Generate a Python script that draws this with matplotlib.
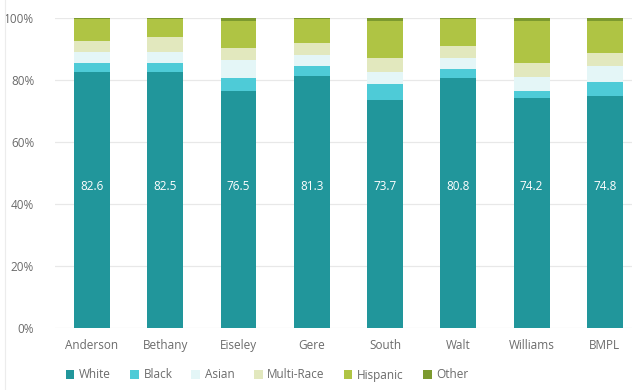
import numpy as np
import matplotlib
matplotlib.use("Agg")
import matplotlib.pyplot as plt
from matplotlib.patches import Patch
from matplotlib.lines import Line2D

plt.rcParams["font.family"] = ["Open Sans", "DejaVu Sans"]

schools = ["Anderson", "Bethany", "Eiseley", "Gere", "South", "Walt", "Williams", "BMPL"]
white = [82.6, 82.5, 76.5, 81.3, 73.7, 80.8, 74.2, 74.8]
black = [3.0, 3.1, 4.3, 3.2, 5.0, 2.9, 2.3, 4.6]
asian = [3.5, 3.5, 5.6, 3.5, 3.9, 3.3, 4.4, 5.2]
multi = [3.6, 4.7, 4.0, 3.8, 4.5, 3.9, 4.5, 4.2]
hispanic = [7.0, 5.9, 8.6, 7.9, 12.0, 8.8, 13.7, 10.3]
other = [0.3, 0.3, 1.0, 0.3, 0.9, 0.3, 0.9, 0.9]

groups = ["White", "Black", "Asian", "Multi-Race", "Hispanic", "Other"]
colors = ["#21969b", "#4ecbd7", "#e4f6f7", "#e2e8be", "#afc444", "#7c9a2f"]
series = [white, black, asian, multi, hispanic, other]

txt = "#6b6b6b"
fig = plt.figure(figsize=(6.42, 3.90), dpi=100)
ax = fig.add_axes([55 / 642, 1 - 328 / 390, 577 / 642, 310 / 390])

x = np.arange(len(schools))
bottom = np.zeros(len(schools))
for vals, col in zip(series, colors):
    ax.bar(x, vals, width=0.49, bottom=bottom, color=col, zorder=2)
    bottom += np.array(vals)

for xi, v in zip(x, white):
    ax.text(xi, 45.7, f"{v}", ha="center", va="center", color="white", fontsize=8.5)

ax.set_xlim(-0.505, 7.37)
ax.set_ylim(0, 100)
ax.set_yticks([0, 20, 40, 60, 80, 100])
ax.set_yticklabels(["0%", "20%", "40%", "60%", "80%", "100%"])
ax.yaxis.grid(True, color="#e8e8e8", linewidth=0.9, zorder=0)
ax.set_xticks(x)
ax.set_xticklabels(schools)
ax.tick_params(axis="both", length=0, colors=txt, labelsize=8.5)
ax.tick_params(axis="y", pad=15)
ax.tick_params(axis="x", pad=8)
for s in ax.spines.values():
    s.set_visible(False)

handles = [Patch(facecolor=c, edgecolor="none") for c in colors]
fig.legend(handles, groups, loc="center left", bbox_to_anchor=(55 / 642, 1 - 375 / 390),
           ncol=6, frameon=False, fontsize=8.5, handlelength=0.75, handleheight=0.75,
           handletextpad=0.4, columnspacing=1.6, labelcolor=txt)

# faint border on the left edge
fig.add_artist(Line2D([5 / 642, 5 / 642], [0, 1], color="#ececec", linewidth=0.8))

fig.savefig("out.png", dpi=100)
